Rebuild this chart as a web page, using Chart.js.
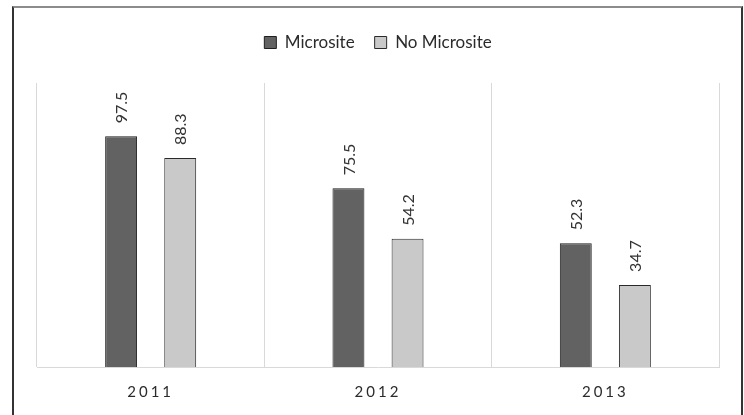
<!DOCTYPE html>
<html>
<head>
<meta charset="utf-8">
<script src="https://cdn.jsdelivr.net/npm/chart.js@4/dist/chart.umd.min.js"></script>
<style>
  html, body { margin: 0; padding: 0; background: #fff; }
  #wrap { position: relative; width: 744px; height: 415px; overflow: hidden; }
  #frame { position: absolute; left: 12px; top: 6px; width: 731px; height: 420px;
           border-top: 2px solid #8c8c8c; border-left: 2px solid #333; border-right: 2px solid #333; box-sizing: border-box; }
  canvas { position: absolute; left: 0; top: 0; }
</style>
</head>
<body>
<div id="wrap">
  <div id="frame"></div>
  <canvas id="c" width="744" height="415"></canvas>
</div>
<script>
const years = ['2011', '2012', '2013'];
const microsite = [97.5, 75.5, 52.3];
const noMicrosite = [88.3, 54.2, 34.7];

const FONT = 'Lato, "Open Sans", sans-serif';

// Vertical value labels above each bar
const barValueLabels = {
  id: 'barValueLabels',
  afterDatasetsDraw(chart) {
    const ctx = chart.ctx;
    ctx.save();
    ctx.font = '16px ' + FONT;
    ctx.fillStyle = '#333';
    ctx.textAlign = 'left';
    ctx.textBaseline = 'middle';
    chart.data.datasets.forEach((ds, i) => {
      chart.getDatasetMeta(i).data.forEach((bar, j) => {
        ctx.save();
        ctx.translate(bar.x + 1, bar.y - 13);
        ctx.rotate(-Math.PI / 2);
        ctx.fillText(ds.data[j].toFixed(1), 0, 0);
        ctx.restore();
      });
    });
    ctx.restore();
  }
};

// Spaced-out category labels on the x axis, extra room under the legend
const layoutTweaks = {
  id: 'layoutTweaks',
  beforeLayout(chart) {
    const lg = chart.legend;
    if (lg && !lg.__extra) {
      const fit = lg.fit.bind(lg);
      lg.fit = function () { fit(); this.height += 22; };
      lg.__extra = true;
    }
  },
  afterLayout(chart) {
    const s = chart.scales.x;
    if (s && !s.__spaced) {
      const orig = s.drawLabels.bind(s);
      s.drawLabels = function (area) {
        chart.ctx.save();
        chart.ctx.letterSpacing = '3px';
        orig(area);
        chart.ctx.restore();
      };
      s.__spaced = true;
    }
  }
};

new Chart(document.getElementById('c'), {
  type: 'bar',
  data: {
    labels: years,
    datasets: [
      { label: 'Microsite', data: microsite, backgroundColor: '#626262', borderColor: '#1e1e1e', borderWidth: 1 },
      { label: 'No Microsite', data: noMicrosite, backgroundColor: '#c9c9c9', borderColor: '#2a2a2a', borderWidth: 1 }
    ]
  },
  options: {
    responsive: false,
    animation: false,
    devicePixelRatio: 1,
    categoryPercentage: 0.52,
    barPercentage: 0.54,
    layout: { padding: { left: 37, right: 25, top: 14, bottom: -2 } },
    plugins: {
      legend: {
        position: 'top',
        labels: {
          boxWidth: 12, boxHeight: 12, padding: 20,
          color: '#2b2b2b',
          font: { size: 17, family: FONT }
        }
      },
      tooltip: { enabled: false }
    },
    scales: {
      x: {
        grid: { color: '#d9d9d9', lineWidth: 1, drawTicks: false },
        border: { color: '#d9d9d9', width: 1 },
        ticks: { color: '#2b2b2b', padding: 16, font: { size: 15, family: FONT } }
      },
      y: {
        display: false,
        min: 0,
        max: 120
      }
    }
  },
  plugins: [barValueLabels, layoutTweaks]
});
</script>
</body>
</html>
